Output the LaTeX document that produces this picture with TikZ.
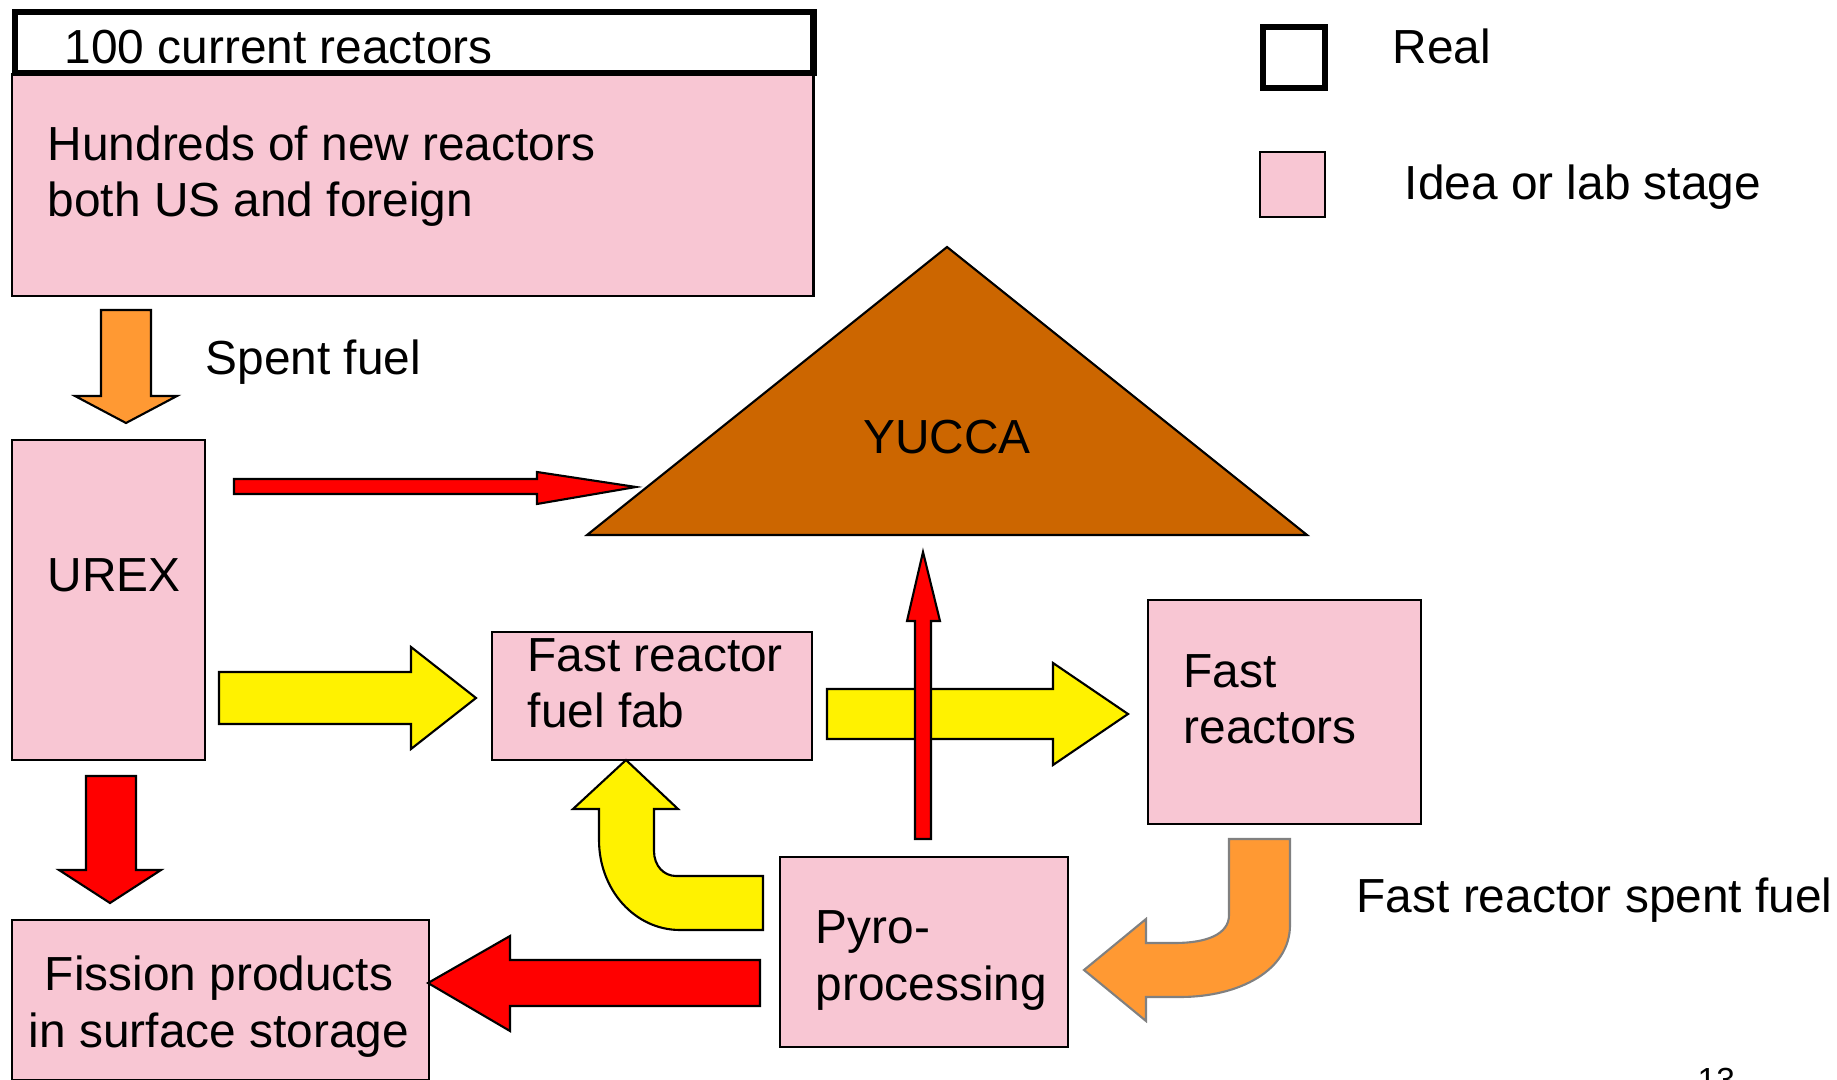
\documentclass[tikz,border=0pt]{standalone}
\usepackage{fontspec}
\setmainfont{Liberation Sans}
\usetikzlibrary{positioning}
\definecolor{labpink}{RGB}{248,198,211}
\definecolor{fuelorange}{RGB}{255,153,51}
\definecolor{yuccabrown}{RGB}{204,102,0}

\begin{document}
\begin{tikzpicture}[x=0.01cm, y=-0.01cm,
    labbox/.style={rectangle, draw, fill=labpink, line width=0.6pt, anchor=north west, inner sep=0pt},
    realbox/.style={rectangle, draw, fill=white, line width=1.8pt, anchor=north west, inner sep=0pt},
    lbl/.style={inner sep=0pt, anchor=base west, align=left, font=\fontsize{13.6}{16.2}\selectfont},
    redarrow/.style={draw, fill=red, line width=0.6pt, line join=miter},
    yelarrow/.style={draw, fill=yellow, line width=0.6pt, line join=miter},
    orgarrow/.style={draw, fill=fuelorange, line width=0.6pt, line join=miter},
  ]
  \useasboundingbox (0,0) rectangle (1837,1080);
  \clip (0,0) rectangle (1837,1080);

  % Reactors (top)
  \node[labbox, minimum width=8.01cm, minimum height=2.22cm] (newreact) at (11,73) {};
  \node[realbox, minimum width=7.98cm, minimum height=0.61cm] (curreact) at (12,9) {};
  \node[lbl] (curlbl) at (64,64) {100 current reactors};
  \node[lbl] (newlbl) at (47,217) {Hundreds of new reactors\\both US and foreign};

  % Legend
  \node[realbox, minimum width=0.62cm, minimum height=0.61cm] (reallegend) at (1260,24) {};
  \node[labbox, minimum width=0.65cm, minimum height=0.65cm] (idealegend) at (1259,151) {};
  \node[lbl] (reallbl) at (1392,64) {Real};
  \node[lbl] (idealbl) at (1404,200) {Idea or lab stage};

  % Process boxes
  \node[labbox, minimum width=1.93cm, minimum height=3.2cm] (urex) at (11,439) {};
  \node[labbox, minimum width=3.2cm, minimum height=1.28cm] (fuelfab) at (491,631) {};
  \node[labbox, minimum width=2.73cm, minimum height=2.24cm] (fastreact) at (1147,599) {};
  \node[labbox, minimum width=2.88cm, minimum height=1.9cm] (pyro) at (779,856) {};
  \node[labbox, minimum width=4.17cm, minimum height=1.6cm] (fission) at (11,919) {};

  % Yucca
  \draw[fill=yuccabrown, line width=0.6pt] (947,247) -- (1307,535) -- (587,535) -- cycle;
  \node[lbl, anchor=base] (yucca) at (947,454) {YUCCA};

  % Labels
  \node[lbl] (spentlbl) at (205,375) {Spent fuel};
  \node[lbl] (urexlbl) at (47,592) {UREX};
  \node[lbl] (fablbl) at (527,728) {Fast reactor\\fuel fab};
  \node[lbl] (fastlbl) at (1183,744) {Fast\\reactors};
  \node[lbl] (frspentlbl) at (1356,912) {Fast reactor spent fuel};
  \node[lbl] (pyrolbl) at (815,1000) {Pyro-\\processing};
  \node[lbl, anchor=base, align=center] (fisslbl) at (219,1047) {Fission products\\in surface storage};
  \node[inner sep=0pt, anchor=base west, font=\fontsize{9.5}{11}\selectfont] (pagenum) at (1697,1091) {13};

  % Block arrows
  \draw[orgarrow] (101,310) -- (151,310) -- (151,396) -- (177,396) -- (126,423) -- (75,396) -- (101,396) -- cycle;
  \draw[redarrow] (234,479) -- (537,479) -- (537,472) -- (636,487) -- (537,504) -- (537,494) -- (234,494) -- cycle;
  \draw[yelarrow] (219,672) -- (411,672) -- (411,647) -- (476,698) -- (411,749) -- (411,724) -- (219,724) -- cycle;
  \draw[yelarrow] (827,689) -- (1053,689) -- (1053,663) -- (1128,714) -- (1053,765) -- (1053,739) -- (827,739) -- cycle;
  \draw[redarrow] (915,839) -- (915,621) -- (907,621) -- (923,552) -- (940,621) -- (931,621) -- (931,839) -- cycle;
  \draw[redarrow] (86,776) -- (136,776) -- (136,870) -- (161,870) -- (110,903) -- (59,870) -- (86,870) -- cycle;
  \draw[redarrow] (760,960) -- (510,960) -- (510,936) -- (428,983) -- (510,1031) -- (510,1006) -- (760,1006) -- cycle;
  \draw[yelarrow] (763,876) -- (676,876) .. controls (664,876) and (654,866) .. (654,851) -- (654,809)
    -- (678,809) -- (626,760) -- (573,809) -- (599,809) -- (599,840)
    .. controls (599,890) and (635,930) .. (680,930) -- (763,930) -- cycle;
  \draw[orgarrow, draw=gray] (1229,839) -- (1290,839) -- (1290,925) .. controls (1290,970) and (1240,997) .. (1180,997)
    -- (1146,997) -- (1146,1021) -- (1084,970) -- (1146,919) -- (1146,943) -- (1175,943)
    .. controls (1205,943) and (1229,935) .. (1229,915) -- cycle;
\end{tikzpicture}
\end{document}
